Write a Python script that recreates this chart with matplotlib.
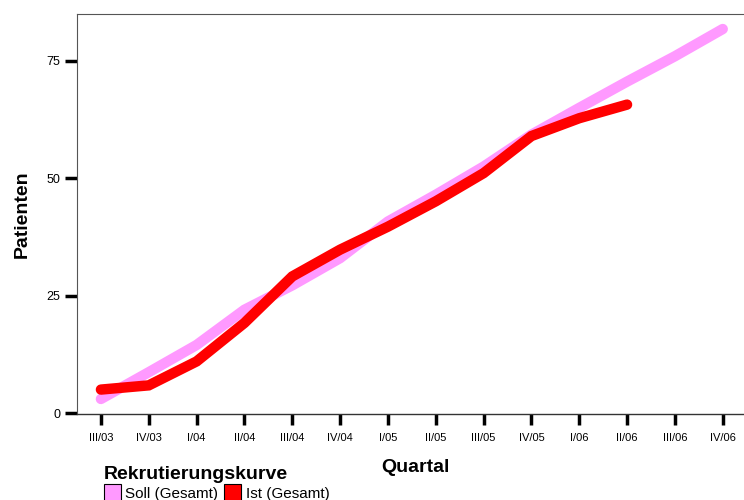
import matplotlib
matplotlib.use("Agg")
import matplotlib.pyplot as plt
from matplotlib.patches import Patch

quarters = ["III/03", "IV/03", "I/04", "II/04", "III/04", "IV/04", "I/05",
            "II/05", "III/05", "IV/05", "I/06", "II/06", "III/06", "IV/06"]
soll = [3.0, 8.7, 14.5, 22.0, 27.2, 33.0, 40.8, 46.5, 52.5, 59.3, 65.0, 70.6, 76.0, 81.8]
ist = [5.0, 5.9, 11.0, 19.2, 29.1, 34.8, 39.7, 45.1, 51.1, 59.0, 62.8, 65.7]
yticks = [0, 25, 50, 75]

plt.rcParams['font.family'] = ['Liberation Sans Narrow', 'Liberation Sans', 'DejaVu Sans']

fig = plt.figure(figsize=(7.44, 5.0), dpi=100)
ax = fig.add_axes([77/744, 1 - 414/500, (744 - 77)/744 + 0.01, (414 - 14)/500])

x = list(range(len(quarters)))
ax.plot(x, soll, color='#ff99ff', lw=7.5, solid_capstyle='round', solid_joinstyle='miter', zorder=2)
ax.plot(x[:len(ist)], ist, color='#ff0000', lw=7.5, solid_capstyle='round', solid_joinstyle='miter', zorder=3)

ax.set_xlim(-0.5, 13.6)
ax.set_ylim(-0.2, 85)
ax.set_xticks(x)
ax.set_xticklabels(quarters, fontsize=8)
ax.set_yticks(yticks)
ax.set_yticklabels([str(v) for v in yticks], fontsize=9)
ax.tick_params(axis='y', direction='out', length=9, width=2.5, color='black', pad=3)
ax.tick_params(axis='x', direction='out', length=8, width=2.5, color='black', pad=6)

for s in ['top', 'left']:
    ax.spines[s].set_color('#555555')
    ax.spines[s].set_linewidth(0.8)
ax.spines['bottom'].set_color('#333333')
ax.spines['bottom'].set_linewidth(1.0)
ax.spines['right'].set_visible(False)

ax.set_ylabel("Patienten", fontsize=14, fontweight='bold', labelpad=11)
fig.text(415/744, 1 - 467/500, "Quartal", fontsize=14, fontweight='bold', ha='center', va='center')

handles = [Patch(facecolor='#ff99ff', edgecolor='black', linewidth=0.8, label='Soll (Gesamt)'),
           Patch(facecolor='#ff0000', edgecolor='black', linewidth=0.8, label='Ist (Gesamt)')]
leg = fig.legend(handles=handles, ncol=2, loc='upper left', bbox_to_anchor=(93/744, 1 - 455/500),
                 frameon=False, title="Rekrutierungskurve", fontsize=11,
                 title_fontproperties={'weight': 'bold', 'size': 14},
                 handlelength=1.1, handleheight=1.3, handletextpad=0.3, columnspacing=0.4,
                 borderpad=0.2, labelspacing=0.1)
leg._legend_box.align = "left"

fig.savefig("out.png", dpi=100)
